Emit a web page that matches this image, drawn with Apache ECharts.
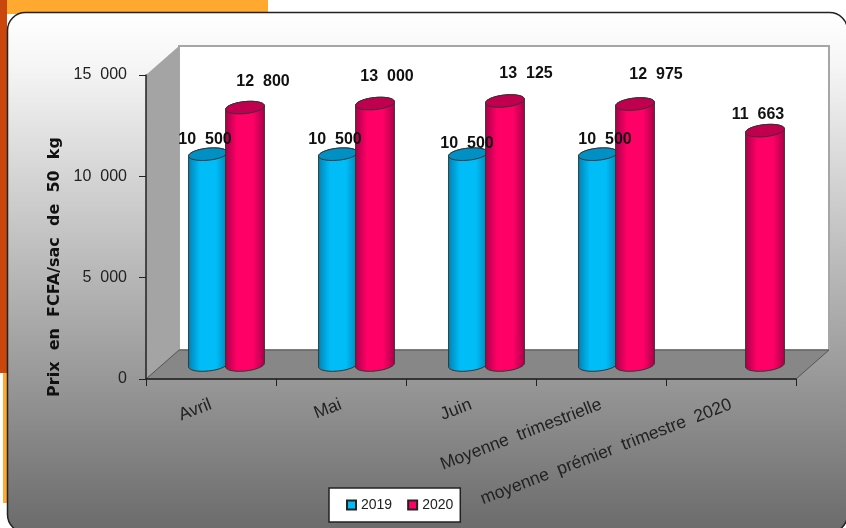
<!DOCTYPE html>
<html>
<head>
<meta charset="utf-8">
<style>
  html, body { margin: 0; padding: 0; background: #fff; }
  #chart { width: 846px; height: 528px; }
</style>
<script src="https://cdn.jsdelivr.net/npm/echarts@6/dist/echarts.min.js"></script>
</head>
<body>
<div id="chart"></div>
<script>
const categories = ["Avril", "Mai", "Juin", "Moyenne trimestrielle", "moyenne prémier trimestre 2020"];
const values2019 = [10500, 10500, 10500, 10500, null];
const values2020 = [12800, 13000, 13125, 12975, 11663];
const yTicks = { min: 0, max: 15000, interval: 5000 };

// the labels in the picture sit a bit off the bars, nudged by hand [dx, dy]
const nudge2019 = [[-3, -15], [-3, -15], [-1, -11], [7, -15]];
const nudge2020 = [[18, -26], [12, -27], [21, -27], [21, -29], [-7, -16]];

const DEPTH_X = 33, DEPTH_Y = 29;   // 3d box depth
const BAR_RX = 19.5, BAR_RY = 6;
const TILT = -6 * Math.PI / 180;

const fmt = (v) => String(v).replace(/\B(?=(\d{3})+$)/g, "  ");

function ringPoints(cx, cy, from, to, n) {
  const pts = [];
  for (let i = 0; i <= n; i++) {
    const t = from + (to - from) * i / n;
    pts.push([
      cx + BAR_RX * Math.cos(t) * Math.cos(TILT) - BAR_RY * Math.sin(t) * Math.sin(TILT),
      cy + BAR_RX * Math.cos(t) * Math.sin(TILT) + BAR_RY * Math.sin(t) * Math.cos(TILT),
    ]);
  }
  return pts;
}

function bodyFill(c) {
  return new echarts.graphic.LinearGradient(0, 0, 1, 0, [
    { offset: 0, color: c.edge },
    { offset: 0.3, color: c.main },
    { offset: 0.7, color: c.main },
    { offset: 1, color: c.edge },
  ]);
}

function cylinder(colors, shift, nudge) {
  return (params, api) => {
    const val = api.value(1);
    if (val == null || isNaN(val)) return;
    const i = api.value(0);
    const top = api.coord([i, val]);
    const base = api.coord([i, 0]);
    const cx = top[0] + 15.5 + shift;
    const yTop = top[1] - 12;
    const yBase = base[1] - 14;
    const lower = ringPoints(cx, yBase, 0, Math.PI, 24);
    const upper = ringPoints(cx, yTop, Math.PI, 2 * Math.PI, 24);
    const cap = ringPoints(cx, yTop, 0, 2 * Math.PI, 48);
    const n = nudge[i];
    return {
      type: "group",
      children: [
        {
          type: "polygon",
          shape: { points: lower.concat(upper) },
          style: { fill: bodyFill(colors), stroke: "#333", lineWidth: 1 },
        },
        {
          type: "polygon",
          shape: { points: cap },
          style: { fill: colors.cap, stroke: "#333", lineWidth: 1 },
        },
        {
          type: "text",
          z2: 100,
          style: {
            text: fmt(val),
            x: cx + n[0],
            y: yTop + n[1],
            align: "center",
            verticalAlign: "middle",
            fill: "#111",
            font: 'bold 16px "Liberation Sans", Arial, sans-serif',
          },
        },
      ],
    };
  };
}

function walls(params, api) {
  const g = params.coordSys;
  const l = g.x, r = g.x + g.width, t = g.y, b = g.y + g.height;
  return {
    type: "group",
    children: [
      {
        type: "rect",
        shape: { x: l + DEPTH_X, y: t - DEPTH_Y, width: g.width, height: g.height },
        style: { fill: "#fff", stroke: "#a6a6a6", lineWidth: 2 },
      },
      {
        type: "polygon",
        shape: { points: [[l, t], [l + DEPTH_X, t - DEPTH_Y], [l + DEPTH_X, b - DEPTH_Y], [l, b]] },
        style: { fill: "#a4a4a4" },
      },
      {
        type: "polygon",
        shape: { points: [[l, b], [l + DEPTH_X, b - DEPTH_Y], [r + DEPTH_X, b - DEPTH_Y], [r, b]] },
        style: { fill: "#878787", stroke: "#555", lineWidth: 1 },
      },
    ],
  };
}

const blue = { main: "#00bdf8", edge: "#0082b4", cap: "#0090c4" };
const pink = { main: "#ff0066", edge: "#a80048", cap: "#c0004f" };

const chart = echarts.init(document.getElementById("chart"), null, { renderer: "canvas" });
chart.setOption({
  animation: false,
  graphic: [
    // slide background behind the chart
    { type: "rect", z: -20, shape: { x: 0, y: 0, width: 268, height: 14 }, style: { fill: "#ffa931" } },
    { type: "rect", z: -20, shape: { x: 0, y: 0, width: 7, height: 373 }, style: { fill: "#c9460c" } },
    { type: "rect", z: -20, shape: { x: 3, y: 373, width: 5, height: 130 }, style: { fill: "#ffa931" } },
    {
      type: "rect",
      z: -10,
      shape: { x: 7.5, y: 12.5, width: 840, height: 520, r: 18 },
      style: {
        fill: new echarts.graphic.LinearGradient(0, 0, 0, 1, [
          { offset: 0, color: "#ffffff" },
          { offset: 0.1, color: "#f6f6f6" },
          { offset: 1, color: "#6a6a6a" },
        ]),
        stroke: "#222",
        lineWidth: 1.5,
      },
    },
    {
      type: "text",
      z: 5,
      x: 55,
      y: 267,
      rotation: Math.PI / 2,
      style: {
        text: "Prix  en  FCFA/sac  de  50  kg",
        align: "center",
        verticalAlign: "middle",
        fill: "#111",
        font: 'bold 16px "DejaVu Sans", sans-serif',
      },
    },
  ],
  grid: { left: 146, right: 50, top: 75, bottom: 149 },
  legend: {
    left: 329,
    top: 488,
    data: ["2019", "2020"],
    icon: "rect",
    itemWidth: 9,
    itemHeight: 9,
    itemGap: 15,
    padding: [10, 7, 10, 17],
    backgroundColor: "#fff",
    borderColor: "#222",
    borderWidth: 1.5,
    textStyle: { color: "#222", fontSize: 14, fontFamily: '"Liberation Sans", Arial, sans-serif' },
  },
  xAxis: {
    type: "category",
    data: categories,
    axisLine: { lineStyle: { color: "#222", width: 1.5 } },
    axisTick: { show: true, length: 7, lineStyle: { color: "#222", width: 1 } },
    axisLabel: {
      interval: 0,
      rotate: 21,
      margin: 25,
      color: "#222",
      fontSize: 17.5,
      fontFamily: '"Liberation Sans", Arial, sans-serif',
      formatter: (s) => s.replace(/ /g, "  "),
    },
  },
  yAxis: {
    type: "value",
    min: yTicks.min,
    max: yTicks.max,
    interval: yTicks.interval,
    splitLine: { show: false },
    axisLine: { show: true, lineStyle: { color: "#222", width: 1.5 } },
    axisTick: { show: true, length: 7, lineStyle: { color: "#222", width: 1 } },
    axisLabel: {
      margin: 19,
      color: "#222",
      fontSize: 16,
      fontFamily: '"Liberation Sans", Arial, sans-serif',
      formatter: fmt,
    },
  },
  series: [
    { type: "custom", name: "box", silent: true, z: 0, renderItem: walls, data: [[0, 0]] },
    {
      type: "custom",
      name: "2019",
      z: 3,
      itemStyle: { color: "#00bdf8", borderColor: "#222", borderWidth: 1.5 },
      renderItem: cylinder(blue, -18.5, nudge2019),
      encode: { x: 0, y: 1 },
      data: categories.map((c, i) => [i, values2019[i]]),
    },
    {
      type: "custom",
      name: "2020",
      z: 3,
      itemStyle: { color: "#ff0066", borderColor: "#222", borderWidth: 1.5 },
      renderItem: cylinder(pink, 18.5, nudge2020),
      encode: { x: 0, y: 1 },
      data: categories.map((c, i) => [i, values2020[i]]),
    },
  ],
});
</script>
</body>
</html>
